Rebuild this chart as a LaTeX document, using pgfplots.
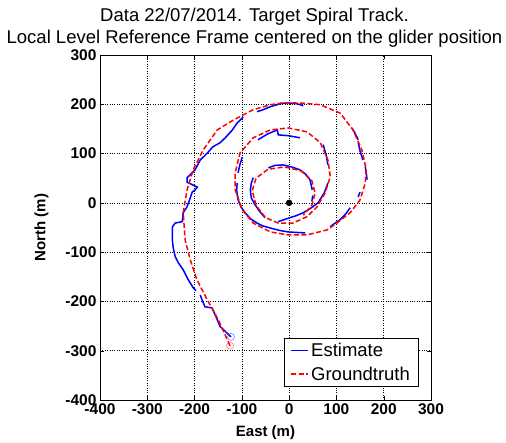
\documentclass[border=0pt]{standalone}
\usepackage{pgfplots}
\pgfplotsset{compat=1.18}
\usepackage{fontspec}
\setmainfont{Liberation Sans}
\begin{document}
\begin{tikzpicture}
\begin{axis}[
  name=ax,
  scale only axis,
  width=331pt, height=345pt,
  xmin=-400, xmax=300, ymin=-400, ymax=300,
  xtick={-400,-300,...,300}, ytick={-400,-300,...,300},
  grid=major,
  major grid style={black, dotted, line width=0.5pt},
  tick style={black},
  tick align=inside,
  axis line style={black, line width=0.7pt},
  /pgf/number format/assume math mode=true,
  ticklabel style={font=\fontsize{15.5}{17}\selectfont\bfseries},
  xlabel={East (m)}, ylabel={North (m)},
  label style={font=\fontsize{15}{17}\selectfont\bfseries},
  xlabel shift=4pt, ylabel shift=10pt,
  title style={font=\fontsize{18.5}{22}\selectfont, align=center, xshift=-11pt, yshift=-2pt},
  title={Data 22/07/2014. Target Spiral Track.\\Local Level Reference Frame centered on the glider position},
  unbounded coords=jump,
  legend style={at={(0.961,0.038)}, anchor=south east, font=\fontsize{18.5}{20}\selectfont, row sep=5pt, inner xsep=6pt, inner ysep=3pt},
  legend cell align=left,
]
\addplot[blue, line width=1.5pt] coordinates {
(-123,-272) (-136,-260) (-146,-251) (-152,-237) (-163,-213) (-178,-211) (-184,-197) (-188,-187)
(nan,nan)
(-197,-178) (-203,-172) (-214,-155) (-224,-136) (-234,-122) (-241,-109) (-245,-92) (-247,-75) (-247,-49) (-241,-41) (-226,-38) (-224,-20) (-216,-8) (-209,10) (-205,22) (-199,26) (-194,32) (-203,36) (-216,42) (-216,51) (-209,57) (-199,67) (-188,87) (-173,101) (-161,114) (-146,122) (-135,132) (-120,148) (-110,162) (-97,174)
(nan,nan)
(-68,185) (-55,189) (-40,195) (-19,201) (-4,203) (17,201) (30,197)
(nan,nan)
(133,152) (140,140) (146,128)
(nan,nan)
(146,122) (150,105) (156,87)
(nan,nan)
(161,73) (163,60) (165,47)
(nan,nan)
(150,22) (146,12)
(nan,nan)
(129,-10) (120,-22) (108,-34) (87,-48)
(nan,nan)
(34,-61) (15,-60) (-2,-59) (-20,-56) (-40,-51) (-55,-47) (-68,-41) (-82,-32) (-93,-20) (-102,-8) (-108,6) (-111,25) (-110,40)
(nan,nan)
(-108,61) (-104,78) (-99,93)
(nan,nan)
(-66,128) (-45,140) (-25,148) (-23,138) (0,136) (23,132)
(nan,nan)
(72,118) (78,98) (82,77)
(nan,nan)
(82,40) (74,20) (61,0) (47,-10) (30,-20) (15,-26) (2,-30) (-23,-38)
(nan,nan)
(-51,-30) (-62,-18) (-72,-4) (-80,10) (-82,26) (-80,40) (-76,51)
(nan,nan)
(-44,71) (-30,76) (-13,77) (5,73) (23,67) (35,58) (44,47) (49,26)
(nan,nan)
(50,15) (48,3)
};
\addlegendentry{Estimate}
\addplot[red, line width=1.5pt, dash pattern=on 5pt off 2.5pt] coordinates {
(-125,-290) (-150,-237) (-173,-197) (-195,-156) (-209,-116) (-220,-75) (-224,-20) (-216,26) (-203,67) (-182,107) (-152,148) (-118,168) (-76,189) (-40,199) (-13,203) (2,203) (35,202) (66,199) (108,182) (135,148) (154,107) (163,67) (161,40) (150,6) (129,-20) (101,-41) (80,-55) (38,-65) (-2,-65) (-40,-59) (-76,-41) (-99,-14) (-114,26) (-114,61) (-104,101) (-76,132) (-40,148) (-2,152) (38,144) (66,122) (82,87) (87,53) (76,20) (59,-8) (38,-28) (8,-41) (-23,-41) (-50,-30) (-70,-5) (-78,25) (-70,50) (-45,68) (-10,73) (25,65) (48,45) (55,20) (48,-5) (30,-25)
};
\addlegendentry{Groundtruth}
\addplot[blue!70, only marks, mark=o, mark size=3.5pt, forget plot] coordinates {(-123,-272)};
\addplot[red!70, only marks, mark=o, mark size=3.5pt, forget plot] coordinates {(-125,-290)};
\addplot[black, only marks, mark=*, mark size=3pt, forget plot] coordinates {(0,0)};
\end{axis}
\pgfresetboundingbox
\path[use as bounding box] ([shift={(-100pt,-43pt)}]ax.south west) rectangle ([shift={(75pt,55pt)}]ax.north east);
\end{tikzpicture}
\end{document}
